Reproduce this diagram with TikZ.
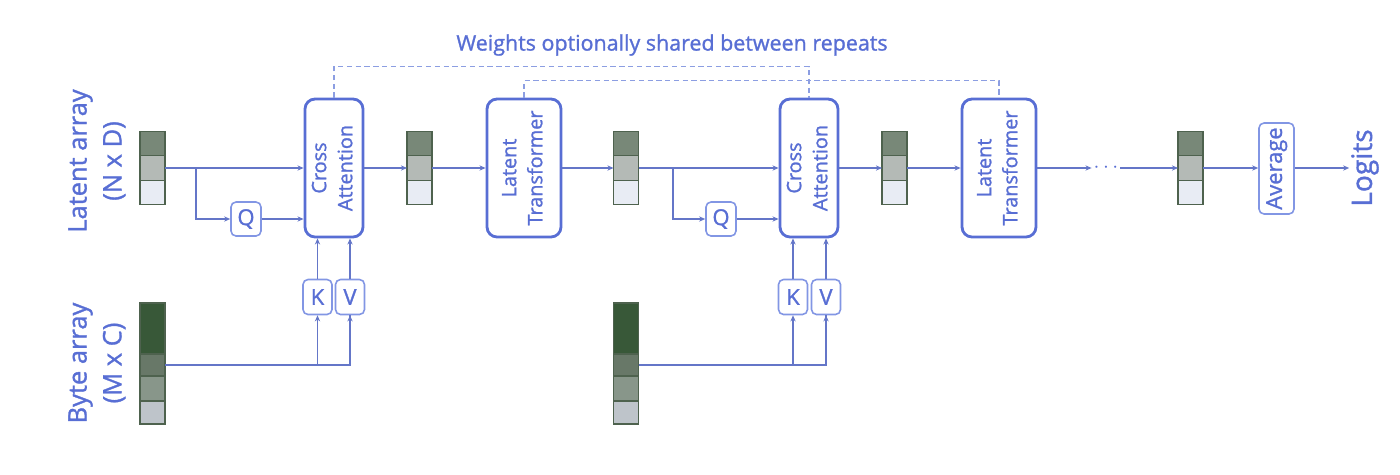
\documentclass[tikz,border=0pt]{standalone}
\usepackage{graphicx}
\usepackage{fontspec}
\setmainfont{Open Sans}[FakeBold=1.2]
\usetikzlibrary{arrows.meta,positioning,calc}
\definecolor{txtblue}{RGB}{88,110,212}
\definecolor{boxblue}{RGB}{88,110,212}
\definecolor{smallblue}{RGB}{130,150,228}
\definecolor{lineblue}{RGB}{100,118,200}
\definecolor{dashblue}{RGB}{140,158,226}
\definecolor{cellborder}{RGB}{78,98,78}
\definecolor{latdark}{RGB}{120,136,120}
\definecolor{latmid}{RGB}{180,186,182}
\definecolor{latlight}{RGB}{232,236,244}
\definecolor{bytedark}{RGB}{56,88,56}
\definecolor{bytetex}{RGB}{104,120,104}
\definecolor{bytemid}{RGB}{136,150,138}
\definecolor{bytelight}{RGB}{190,196,202}
\newcommand{\vtxt}[1]{\rotatebox{90}{\renewcommand{\arraystretch}{1.1}\begin{tabular}{@{}c@{}}#1\end{tabular}}}
\tikzset{
cell/.style = {draw=cellborder, line width=0.7pt, minimum width=0.5cm, minimum height=0.49cm, inner sep=0pt, outer sep=0pt},
bigbox/.style = {draw=boxblue, line width=1.6pt, fill=white, rounded corners=0.2cm, minimum height=2.76cm, inner sep=0pt, text=txtblue, font=\fontsize{11.3}{13.5}\selectfont},
smallbox/.style = {draw=smallblue, line width=0.9pt, fill=white, rounded corners=0.1cm, minimum width=0.6cm, minimum height=0.68cm, inner sep=0pt, text=txtblue, font=\fontsize{12.5}{14}\selectfont},
lbl/.style = {text=txtblue, font=\fontsize{14.5}{18}\selectfont, inner sep=1pt},
conn/.style = {draw=lineblue, line width=0.6pt},
shared/.style = {draw=dashblue, line width=0.6pt, dash pattern=on 3pt off 2pt}
}
\begin{document}
\begin{tikzpicture}[x=0.02cm, y=-0.02cm, >={Stealth[length=3.5pt,width=3pt]}]
  \useasboundingbox (0,0) rectangle (1400,474);

  % latent arrays
  \foreach \nm/\xx in {la1/152.5, la2/419.5, la3/626, la4/894.5, la5/1190.5} {
    \node [cell, fill=latmid]                       (\nm)   at (\xx,168) {};
    \node [cell, fill=latdark, above=0pt of \nm]    (\nm-t) {};
    \node [cell, fill=latlight, below=0pt of \nm]   (\nm-b) {};
  }
  % byte arrays
  \foreach \nm/\xx in {by1/152.5, by2/626} {
    \node [cell, fill=bytetex, minimum height=0.44cm]                    (\nm)   at (\xx,365) {};
    \node [cell, fill=bytedark, minimum height=1.02cm, above=0pt of \nm] (\nm-t) {};
    \node [cell, fill=bytemid, minimum height=0.5cm, below=0pt of \nm]   (\nm-c) {};
    \node [cell, fill=bytelight, minimum height=0.46cm, below=0pt of \nm-c] (\nm-b) {};
  }

  % labels
  \node [lbl] (title)  at (672,45)  {\fontsize{12.2}{14}\selectfont Weights optionally shared between repeats};
  \node [lbl] (latlbl) at (97,161)  {\vtxt{Latent array\\(N x D)}};
  \node [lbl] (bytlbl) at (97,363)  {\vtxt{Byte array\\(M x C)}};
  \node [lbl, rotate=90, font=\fontsize{16}{18}\selectfont] (logits) at (1365,168) {Logits};

  % blocks
  \node [bigbox, minimum width=1.16cm] (ca1) at (334,168)   {\vtxt{Cross\\Attention}};
  \node [bigbox, minimum width=1.48cm] (lt1) at (524,168)   {\vtxt{Latent\\Transformer}};
  \node [bigbox, minimum width=1.16cm] (ca2) at (809,168)   {\vtxt{Cross\\Attention}};
  \node [bigbox, minimum width=1.48cm] (lt2) at (999,168)   {\vtxt{Latent\\Transformer}};
  \node [smallbox] (q1) at (246,219) {Q};
  \node [smallbox] (q2) at (721,219) {Q};
  \node [smallbox, minimum width=0.58cm, minimum height=0.7cm] (k1) at (317.5,297) {K};
  \node [smallbox, minimum width=0.58cm, minimum height=0.7cm] (v1) at (350,297)   {V};
  \node [smallbox, minimum width=0.58cm, minimum height=0.7cm] (k2) at (793,297)   {K};
  \node [smallbox, minimum width=0.58cm, minimum height=0.7cm] (v2) at (826,297)   {V};
  \node [smallbox, minimum width=0.7cm, minimum height=1.82cm] (avg) at (1276.5,168.5) {\vtxt{Average}};
  \node [text=txtblue, inner sep=1pt, font=\fontsize{12}{14}\selectfont] (dots) at (1106,168) {$\cdots$};

  \coordinate (br1) at (196,168);
  \coordinate (br2) at (673,168);

  % main path
  \draw [conn,->] (la1.east) -- (ca1.west |- la1.east);
  \draw [conn,->] (br1) |- (q1.west);
  \draw [conn,->] (q1.east) -- (q1.east -| ca1.west);
  \draw [conn,->] (ca1.east |- la2.west) -- (la2.west);
  \draw [conn,->] (la2.east) -- (lt1.west |- la2.east);
  \draw [conn,->] (lt1.east |- la3.west) -- (la3.west);
  \draw [conn,->] (la3.east) -- (ca2.west |- la3.east);
  \draw [conn,->] (br2) |- (q2.west);
  \draw [conn,->] (q2.east) -- (q2.east -| ca2.west);
  \draw [conn,->] (ca2.east |- la4.west) -- (la4.west);
  \draw [conn,->] (la4.east) -- (lt2.west |- la4.east);
  \draw [conn,->] (lt2.east |- la4.east) -- (dots.west |- la4.east);
  \draw [conn,->] (dots.east |- la5.west) -- (la5.west);
  \draw [conn,->] (la5.east) -- (avg.west |- la5.east);
  \draw [conn,->] (avg.east |- la5.east) -- (logits.north |- la5.east);

  % byte inputs
  \foreach \b/\k/\v/\c in {by1/k1/v1/ca1, by2/k2/v2/ca2} {
    \draw [conn] (\b.east) -| (\v.south);
    \draw [conn,->] (\k.south |- \b.east) -- (\k.south);
    \draw [conn,->] (\v.south |- \b.east) -- (\v.south);
    \draw [conn,->] (\k.north) -- (\k.north |- \c.south);
    \draw [conn,->] (\v.north) -- (\v.north |- \c.south);
  }

  % shared weights
  \draw [shared] (ca1.north) -- ++(0,-31) -| (ca2.north);
  \draw [shared] (lt1.north) -- ++(0,-17) -| (lt2.north);
\end{tikzpicture}
\end{document}
